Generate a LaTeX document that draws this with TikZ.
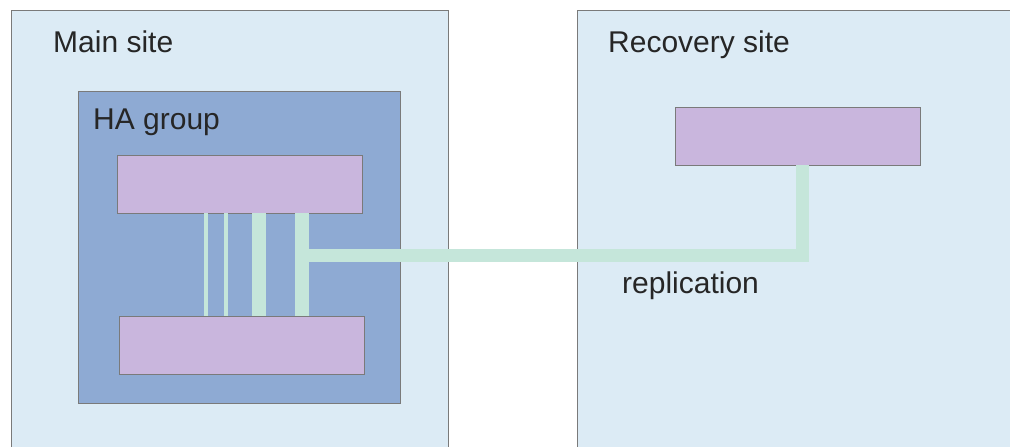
\documentclass[tikz,border=0pt]{standalone}
\usepackage{fontspec}
\setmainfont{Liberation Sans}
\usetikzlibrary{positioning}
\definecolor{sitebg}{HTML}{DCEBF5}
\definecolor{groupbg}{HTML}{8EAAD3}
\definecolor{serverbg}{HTML}{C9B6DD}
\definecolor{linkgreen}{HTML}{C5E6DA}
\definecolor{edgegray}{HTML}{7A7A7A}

\begin{document}
\begin{tikzpicture}[x=1pt, y=-1pt,
                    site/.style={draw=edgegray, fill=sitebg, anchor=north west, inner sep=0pt},
                    group/.style={draw=edgegray, fill=groupbg, anchor=north west, inner sep=0pt},
                    server/.style={draw=edgegray, fill=serverbg, anchor=north west, inner sep=0pt,
                                   minimum width=245pt, minimum height=58pt},
                    link/.style={draw=linkgreen, line join=miter},
                    caption/.style={anchor=base west, inner sep=0pt, text=black!85,
                                    font=\fontsize{30}{36}\selectfont}]
                \useasboundingbox (0,0) rectangle (1010,447);
                % sites
                \node[site, minimum width=437pt, minimum height=460pt] (main) at (11,10) {};
                \node[site, minimum width=460pt, minimum height=460pt] (recovery) at (577,10) {};
                \node[group, minimum width=322pt, minimum height=312pt] (ha) at (78,91) {};
                % servers
                \node[server] (srvA) at (117,155) {};
                \node[server] (srvB) at (119,316) {};
                \node[server] (srvC) at (675,107) {};
                % labels
                \node[caption] (lblmain) at (53,52) {Main site};
                \node[caption] (lblha) at (93,129) {HA group};
                \node[caption] (lblrec) at (608,52) {Recovery site};
                \node[caption] (lblrep) at (622,293) {replication};
                % links between the HA servers
                \foreach \x/\w [count=\i] in {206/4, 226/4, 259/14, 302/14} {
                    \coordinate (bar\i) at (\x,0);
                    \draw[link, line width=\w pt] (srvA.south -| bar\i) -- (srvB.north -| bar\i);
                }
                % replication
                \coordinate (tap) at (302,255);
                \coordinate (up) at (802,0);
                \draw[link, line width=13pt] (tap) -| (srvC.south -| up);
\end{tikzpicture}
\end{document}
